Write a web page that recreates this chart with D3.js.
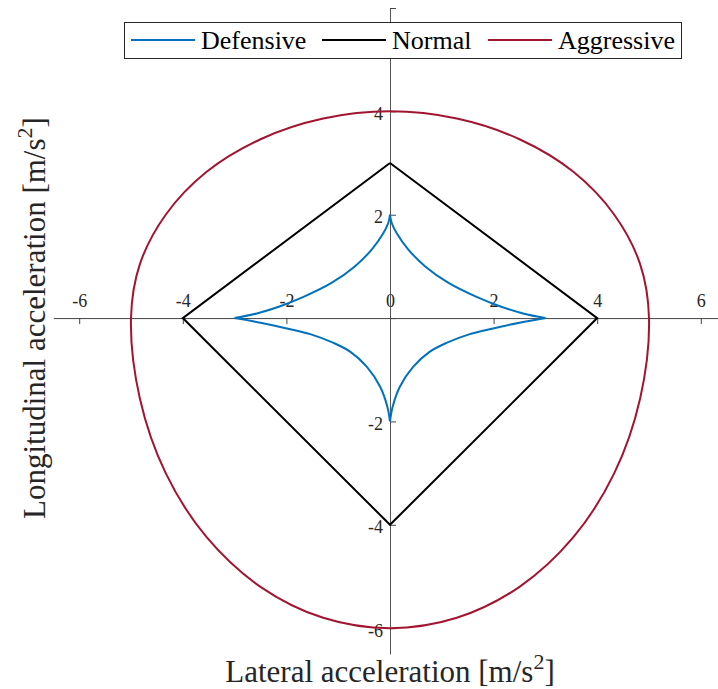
<!DOCTYPE html>
<html>
<head>
<meta charset="utf-8">
<title>Acceleration limits</title>
<style>
  body { margin: 0; background: #fff; }
  svg { display: block; }
</style>
</head>
<body>
<svg></svg>
<script src="https://d3js.org/d3.v7.min.js"></script>
<script>
// series
var seriesNames = ["Defensive", "Normal", "Aggressive"];
var seriesColors = ["#0072BD", "#000000", "#A2142F"];

// defensive: closed loop, cusps on the axes
var defX = [0, 0.03, 0.13, 0.35, 0.68, 1.13, 1.67, 2.12, 2.57, 3,
            2.5, 1.99, 1.54, 1.09, 0.77, 0.45, 0.19, 0.05, 0,
            -0.05, -0.19, -0.45, -0.77, -1.09, -1.54, -1.99, -2.5, -3,
            -2.57, -2.12, -1.67, -1.13, -0.68, -0.35, -0.13, -0.03, 0];
var defY = [2, 1.85, 1.64, 1.33, 1.0, 0.68, 0.41, 0.23, 0.09, 0,
            -0.09, -0.2, -0.31, -0.48, -0.65, -0.94, -1.33, -1.72, -2,
            -1.72, -1.33, -0.94, -0.65, -0.48, -0.31, -0.2, -0.09, 0,
            0.09, 0.23, 0.41, 0.68, 1.0, 1.33, 1.64, 1.85, 2];

// normal: diamond
var norX = [0, 4, 0, -4, 0];
var norY = [3, 0, -4, 0, 3];

// aggressive: egg shape
var aggX = [5, 4.83, 4.33, 3.54, 2.5, 1.29, 0, -1.29, -2.5, -3.54, -4.33, -4.83,
            -5, -4.83, -4.33, -3.54, -2.5, -1.29, 0, 1.29, 2.5, 3.54, 4.33, 4.83];
var aggY = [0, 1.04, 2.0, 2.83, 3.46, 3.86, 4, 3.86, 3.46, 2.83, 2.0, 1.04,
            0, -1.55, -3.0, -4.24, -5.2, -5.8, -6, -5.8, -5.2, -4.24, -3.0, -1.55];

var xTicks = [-6, -4, -2, 0, 2, 4, 6];
var yTicks = [-6, -4, -2, 0, 2, 4, 6];
var yTickLabels = ["-6", "-4", "-2", "", "2", "4", ""];

var width = 718, height = 689;
var fontFamily = "'Liberation Serif', 'Times New Roman', serif";

var svg = d3.select("svg")
    .attr("width", width)
    .attr("height", height)
    .style("background", "#fff");

var x = d3.scaleLinear().domain([-6.5, 6.5]).range([53.3, 726.7]);
var y = d3.scaleLinear().domain([-6.5, 6]).range([654, 8]);

// axes through the origin
var xAxis = svg.append("g")
    .attr("transform", "translate(0," + y(0) + ")")
    .call(d3.axisBottom(x).tickValues(xTicks).tickSize(6).tickSizeOuter(0)
        .tickFormat(function(d) { return d; }));
xAxis.select(".domain").attr("stroke", "#444");
xAxis.selectAll(".tick line").attr("stroke", "#444");
xAxis.selectAll(".tick text")
    .attr("y", -11)
    .attr("dy", 0)
    .attr("fill", "#262626")
    .style("font-family", fontFamily)
    .style("font-size", "18px");

var yAxis = svg.append("g")
    .attr("transform", "translate(" + x(0) + ",0)")
    .call(d3.axisRight(y).tickValues(yTicks).tickSize(6).tickSizeOuter(0)
        .tickFormat(function(d, i) { return yTickLabels[i]; }));
yAxis.select(".domain").attr("stroke", "#555");
yAxis.selectAll(".tick line").attr("stroke", "#444");
yAxis.selectAll(".tick text")
    .attr("x", -7)
    .attr("dy", "0.45em")
    .attr("text-anchor", "end")
    .attr("fill", "#262626")
    .style("font-family", fontFamily)
    .style("font-size", "18px");

// defensive drawn as arcs between the cusps
var defPts = defX.map(function(v, i) { return [v, defY[i]]; });
var defArcs = [], cur = [];
defPts.forEach(function(p, i) {
    cur.push(p);
    if (i > 0 && (p[0] === 0 || p[1] === 0)) {
        defArcs.push(cur);
        cur = [p];
    }
});

var smooth = d3.line()
    .x(function(d) { return x(d[0]); })
    .y(function(d) { return y(d[1]); })
    .curve(d3.curveCatmullRom.alpha(0.5));

svg.append("g").selectAll("path")
    .data(defArcs)
    .enter().append("path")
    .attr("d", smooth)
    .attr("fill", "none")
    .attr("stroke", seriesColors[0])
    .attr("stroke-width", 2);

var straight = d3.line()
    .x(function(d) { return x(d[0]); })
    .y(function(d) { return y(d[1]); });

svg.append("path")
    .datum(norX.map(function(v, i) { return [v, norY[i]]; }))
    .attr("d", straight)
    .attr("fill", "none")
    .attr("stroke", seriesColors[1])
    .attr("stroke-width", 2)
    .attr("stroke-linejoin", "miter");

var closedSmooth = d3.line()
    .x(function(d) { return x(d[0]); })
    .y(function(d) { return y(d[1]); })
    .curve(d3.curveCatmullRomClosed.alpha(0.5));

svg.append("path")
    .datum(aggX.map(function(v, i) { return [v, aggY[i]]; }))
    .attr("d", closedSmooth)
    .attr("fill", "none")
    .attr("stroke", seriesColors[2])
    .attr("stroke-width", 2);

// legend
var legend = svg.append("g");
legend.append("rect")
    .attr("x", 124.5).attr("y", 22.5)
    .attr("width", 557).attr("height", 36)
    .attr("fill", "#fff")
    .attr("stroke", "#262626")
    .attr("stroke-width", 1);

var legendLineX = [131, 322, 488];
var item = legend.selectAll(".item")
    .data(seriesNames)
    .enter().append("g")
    .attr("class", "item")
    .attr("transform", function(d, i) { return "translate(" + legendLineX[i] + ",40)"; });
item.append("line")
    .attr("x1", 0).attr("x2", 64)
    .attr("stroke", function(d, i) { return seriesColors[i]; })
    .attr("stroke-width", 2);
item.append("text")
    .attr("x", 70)
    .attr("y", 9)
    .text(function(d) { return d; })
    .style("font-family", fontFamily)
    .style("font-size", "26px")
    .attr("fill", "#000");

// axis titles
var xt = svg.append("text")
    .attr("x", x(0))
    .attr("y", 682)
    .attr("text-anchor", "middle")
    .style("font-family", fontFamily)
    .style("font-size", "31px")
    .attr("fill", "#262626");
xt.append("tspan").text("Lateral acceleration [m/s");
xt.append("tspan").attr("dy", -13).style("font-size", "22px").text("2");
xt.append("tspan").attr("dy", 13).text("]");

var yt = svg.append("text")
    .attr("transform", "translate(45," + y(0) + ") rotate(-90)")
    .attr("text-anchor", "middle")
    .style("font-family", fontFamily)
    .style("font-size", "31px")
    .attr("fill", "#262626");
yt.append("tspan").text("Longitudinal acceleration [m/s");
yt.append("tspan").attr("dy", -13).style("font-size", "22px").text("2");
yt.append("tspan").attr("dy", 13).text("]");
</script>
</body>
</html>
